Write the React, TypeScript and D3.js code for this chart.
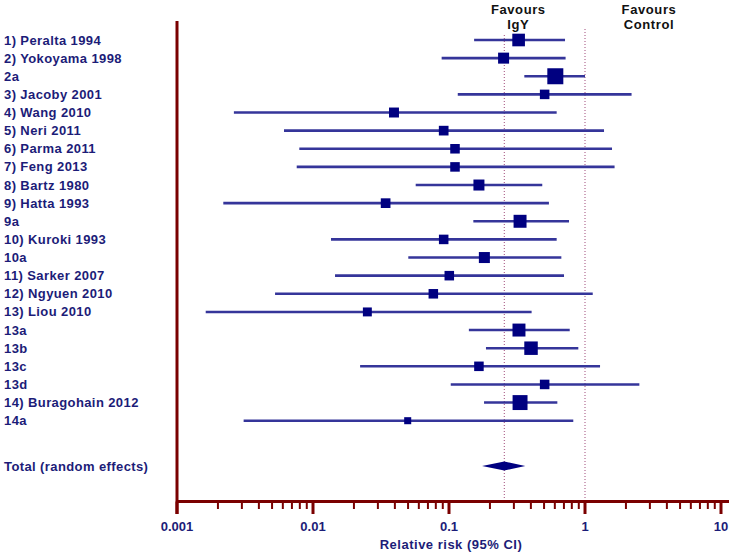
import React from "react";
import * as d3 from "d3";

const studies = [
  "1) Peralta 1994", "2) Yokoyama 1998", "2a", "3) Jacoby 2001", "4) Wang 2010",
  "5) Neri 2011", "6) Parma 2011", "7) Feng 2013", "8) Bartz 1980", "9) Hatta 1993",
  "9a", "10) Kuroki 1993", "10a", "11) Sarker 2007", "12) Ngyuen 2010", "13) Liou 2010",
  "13a", "13b", "13c", "13d", "14) Buragohain 2012", "14a",
];
const rr = [0.325, 0.252, 0.605, 0.505, 0.0394, 0.0914, 0.1107, 0.1107, 0.166, 0.0342,
  0.333, 0.0914, 0.182, 0.1005, 0.0767, 0.0251, 0.327, 0.401, 0.166, 0.505, 0.333, 0.0497];
const lower = [0.153, 0.0883, 0.358, 0.116, 0.00262, 0.00612, 0.00793, 0.00759, 0.0569, 0.00219,
  0.151, 0.01356, 0.0502, 0.01452, 0.00526, 0.001626, 0.14, 0.187, 0.0222, 0.103, 0.181, 0.00309];
const upper = [0.713, 0.72, 1.0, 2.2, 0.619, 1.38, 1.58, 1.65, 0.485, 0.543,
  0.763, 0.619, 0.67, 0.701, 1.14, 0.405, 0.772, 0.893, 1.29, 2.51, 0.626, 0.82];
const weights = [5.8, 4.4, 9.3, 3.3, 3.6, 3.4, 3.3, 3.3, 4.4, 3.4, 6.1, 3.3, 4.4, 3.3, 3.3, 2.9,
  6.1, 6.6, 3.3, 3.3, 8.1, 1.8];
const totalLabel = "Total (random effects)";
const total = { rr: 0.255, lower: 0.175, upper: 0.364 };
const tickLabels = ["0.001", "0.01", "0.1", "1", "10"];
const axisTitle = "Relative risk (95% CI)";

const W = 734, H = 555;
const NAVY = "#1c1c78";
const LINE = "#35359a";
const BOX = "#000080";
const AXIS = "#7a0000";
const DOT = "#a04a7a";
const FONT = "'Liberation Sans', Arial, sans-serif";

export default function App() {
  const x = d3.scaleLog().domain([0.001, 10]).range([177, 721]);
  const y = d3.scaleLinear().domain([0, studies.length - 1]).range([40, 420.7]);
  const yTotal = y(23.5);
  const side = d3.scaleSqrt().domain([0, d3.max(weights)!]).range([0, 16]);
  const axisY = 501.5;
  const ticks = x.ticks();
  const isMajor = (t: number) => Math.abs(Math.log10(t) - Math.round(Math.log10(t))) < 1e-9;

  return (
    <svg width={W} height={H} style={{ position: "absolute", left: 0, top: 0, background: "#fff" }}
      fontFamily={FONT}>
      <rect width={W} height={H} fill="#fff" />
      {/* headers */}
      <g fontWeight="bold" fontSize={13} fill="#111" textAnchor="middle" letterSpacing={0.6}>
        <text x={x(total.rr) + 14} y={13.5}>Favours</text>
        <text x={x(total.rr) + 14} y={28.5}>IgY</text>
        <text x={x(1) + 64} y={13.5}>Favours</text>
        <text x={x(1) + 64} y={28.5}>Control</text>
      </g>
      {/* reference lines */}
      <line x1={x(total.rr)} x2={x(total.rr)} y1={35} y2={axisY} stroke={DOT} strokeWidth={1} strokeDasharray="1,2" />
      <line x1={x(1)} x2={x(1)} y1={29} y2={axisY} stroke={DOT} strokeWidth={1} strokeDasharray="1,2" />
      {/* study rows */}
      {studies.map((s, i) => {
        const cy = y(i);
        const sz = side(weights[i]);
        return (
          <g key={s}>
            <text x={4} y={cy + 4.5} fontSize={13} fontWeight="bold" fill={NAVY} letterSpacing={0.4}>{s}</text>
            <line x1={x(lower[i])} x2={x(upper[i])} y1={cy} y2={cy} stroke={LINE} strokeWidth={2.6} />
            <rect x={x(rr[i]) - sz / 2} y={cy - sz / 2} width={sz} height={sz} fill={BOX} />
          </g>
        );
      })}
      {/* total */}
      <text x={4} y={yTotal + 4.5} fontSize={13} fontWeight="bold" fill={NAVY} letterSpacing={0.4}>{totalLabel}</text>
      <path
        d={`M${x(total.lower)},${yTotal} L${x(total.rr)},${yTotal - 4.5} L${x(total.upper)},${yTotal} L${x(total.rr)},${yTotal + 4.5} Z`}
        fill={BOX}
      />
      {/* axes */}
      <line x1={177} x2={177} y1={21} y2={514} stroke={AXIS} strokeWidth={3} />
      <line x1={177} x2={729} y1={axisY} y2={axisY} stroke={AXIS} strokeWidth={3} />
      {ticks.map((t, i) => {
        const major = isMajor(t);
        return (
          <line key={i} x1={x(t)} x2={x(t)} y1={axisY} y2={major ? 514 : 509}
            stroke={AXIS} strokeWidth={major ? 3 : 2} />
        );
      })}
      <g fontSize={13} fontWeight="bold" fill={NAVY} textAnchor="middle">
        {tickLabels.map((l) => (
          <text key={l} x={x(+l)} y={530.5}>{l}</text>
        ))}
        <text x={x(0.1) + 2} y={549} letterSpacing={0.5}>{axisTitle}</text>
      </g>
    </svg>
  );
}
